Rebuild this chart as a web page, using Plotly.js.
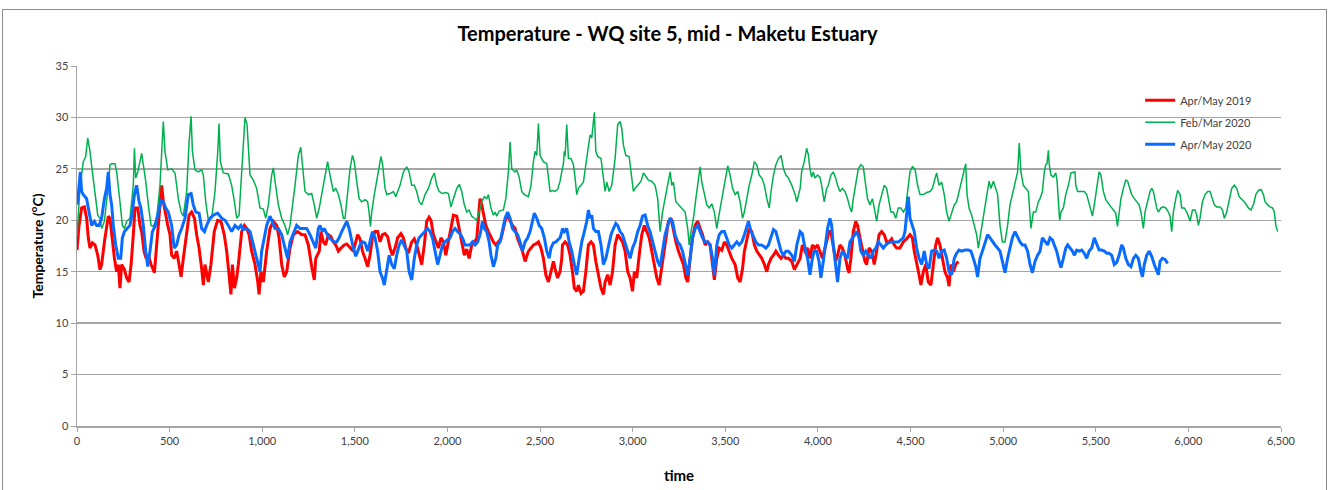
<!DOCTYPE html>
<html>
<head>
<meta charset="utf-8">
<script src="https://cdn.plot.ly/plotly-3.0.1.min.js"></script>
<style>
  html, body { margin: 0; padding: 0; background: #ffffff; }
  #wrap { position: relative; width: 1335px; height: 490px; overflow: hidden; }
  #frame { position: absolute; left: 2px; top: 9px; width: 1325px; height: 520px; border: 1.5px solid #8c8c8c; box-sizing: border-box; }
  #chart { position: absolute; left: 0; top: 0; width: 1335px; height: 490px; }
</style>
</head>
<body>
<div id="wrap"><div id="frame"></div><div id="chart"></div></div>
<script>
const chartTitle = 'Temperature - WQ site 5, mid - Maketu Estuary';
const seriesNames = ['Apr/May 2019', 'Feb/Mar 2020', 'Apr/May 2020'];
const xTickVals = [0,500,1000,1500,2000,2500,3000,3500,4000,4500,5000,5500,6000,6500];
const yTickVals = [0,5,10,15,20,25,30,35];

// Apr/May 2019 [time, temperature]
const aprMay2019 = [
[0,17.1],[11,19.5],[25,21.2],[40,21.3],[52,20.2],[61,18.3],[70,17.3],[83,17.8],[97,17.6],[112,16.6],[124,15.2],[133,15.7],[148,17.9],[160,19.5],[169,20.4],[178,20.2],[187,18.6],[202,16.3],[214,15.0],[223,15.7],[232,13.4],[241,15.7],[256,15.2],[268,14.4],[281,14.0],[292,15.7],[304,18.6],[313,21.2],[328,21.2],[340,19.5],[349,18.9],[362,17.0],[373,16.3],[385,16.6],[400,15.7],[418,14.9],[430,17.6],[443,20.2],[457,23.4],[466,21.8],[475,20.8],[490,19.5],[502,18.6],[511,16.6],[525,16.3],[538,17.0],[551,15.7],[562,14.5],[574,16.3],[592,18.9],[605,20.5],[619,20.8],[634,20.2],[646,18.6],[659,17.3],[673,15.3],[682,13.7],[691,15.7],[709,14.0],[723,15.7],[741,18.9],[759,20.0],[777,19.9],[795,18.6],[808,17.0],[821,14.7],[831,12.8],[839,15.7],[850,13.4],[862,14.4],[871,15.7],[889,18.9],[904,19.5],[916,19.2],[929,18.6],[943,17.0],[961,15.7],[976,14.0],[983,12.8],[993,15.0],[1006,14.0],[1024,17.0],[1042,19.2],[1060,19.9],[1078,19.5],[1091,18.3],[1105,15.7],[1119,14.5],[1132,15.0],[1150,17.3],[1168,18.6],[1191,18.9],[1213,18.6],[1231,18.6],[1249,17.6],[1267,15.5],[1281,14.2],[1289,16.3],[1308,17.0],
[1317,18.9],[1330,17.9],[1342,17.6],[1357,18.6],[1371,18.4],[1384,17.9],[1397,17.6],[1411,17.0],[1425,17.3],[1443,17.6],[1456,17.7],[1474,17.3],[1492,17.0],[1505,17.9],[1515,18.6],[1528,18.2],[1541,17.0],[1555,16.3],[1569,15.5],[1582,16.6],[1595,18.3],[1609,18.9],[1623,18.9],[1636,17.9],[1649,18.6],[1663,18.7],[1677,18.4],[1690,17.3],[1703,16.6],[1717,17.3],[1731,18.3],[1749,18.7],[1762,18.3],[1775,17.3],[1789,16.8],[1807,17.9],[1821,18.2],[1834,17.6],[1847,16.6],[1861,15.7],[1875,17.6],[1888,19.9],[1901,20.3],[1911,20.0],[1924,18.6],[1937,17.9],[1951,17.3],[1965,18.3],[1978,17.9],[1991,16.6],[2005,17.9],[2019,19.5],[2032,20.5],[2050,20.4],[2063,19.2],[2077,17.9],[2091,16.6],[2104,17.2],[2117,16.3],[2131,17.6],[2145,17.9],[2158,18.2],[2167,20.2],[2176,22.1],[2185,21.5],[2194,20.8],[2207,19.5],[2221,18.9],[2235,18.3],[2248,17.9],[2261,17.6],[2275,17.9],[2289,18.2],[2302,19.2],[2315,20.2],[2325,20.4],[2338,19.9],[2351,19.5],[2365,19.2],[2379,18.2],[2392,17.6],[2405,17.0],[2419,16.0],[2437,17.0],[2451,17.3],[2464,17.6],[2477,17.7],[2491,17.9],[2505,17.3],[2518,16.3],[2531,14.7],[2545,14.0],[2559,15.0],[2572,16.0],[2581,15.3],[2594,14.4],[2608,15.0],
[2617,16.3],[2621,17.6],[2635,17.9],[2649,17.6],[2662,16.6],[2675,15.0],[2685,13.4],[2698,13.1],[2707,13.7],[2721,12.9],[2734,13.1],[2747,15.0],[2761,17.6],[2775,17.9],[2788,17.6],[2801,16.0],[2815,14.7],[2829,13.4],[2842,12.8],[2851,14.0],[2865,14.7],[2878,13.7],[2891,15.0],[2905,17.6],[2919,18.6],[2932,18.3],[2945,17.9],[2959,17.0],[2973,15.0],[2986,14.4],[2999,13.1],[3009,15.0],[3022,14.4],[3035,16.6],[3049,18.6],[3063,19.5],[3076,18.9],[3089,18.3],[3103,17.0],[3117,15.7],[3130,14.4],[3143,13.7],[3153,15.0],[3166,16.3],[3179,17.9],[3193,19.9],[3207,20.2],[3220,18.9],[3233,17.9],[3247,17.0],[3261,16.3],[3274,15.7],[3287,14.4],[3297,14.0],[3310,16.3],[3323,18.3],[3337,19.5],[3351,19.9],[3364,19.2],[3377,18.6],[3391,17.6],[3405,17.9],[3418,17.6],[3431,15.7],[3441,14.2],[3454,16.3],[3467,17.3],[3481,17.1],[3495,17.9],[3508,17.6],[3521,17.0],[3535,16.3],[3553,15.7],[3567,14.4],[3580,14.0],[3593,15.3],[3603,17.0],[3616,18.3],[3629,19.2],[3643,18.9],[3657,17.6],[3670,17.0],[3683,16.6],[3697,16.3],[3711,15.7],[3724,15.0],[3733,15.7],[3747,16.3],[3760,16.6],[3773,17.0],[3787,16.6],[3801,16.3],[3814,16.6],[3827,16.3],[3841,16.3],[3859,16.0],[3873,15.2],[3886,15.7],[3904,16.3],
[3916,17.6],[3930,17.0],[3944,17.3],[3957,16.3],[3970,17.6],[3984,17.3],[3998,17.6],[4011,17.0],[4024,16.3],[4034,17.0],[4047,17.9],[4060,18.9],[4070,18.9],[4083,17.6],[4096,16.0],[4106,16.6],[4119,17.6],[4132,17.3],[4146,16.6],[4160,15.3],[4168,14.9],[4178,16.3],[4191,18.9],[4204,19.9],[4214,19.5],[4227,18.3],[4240,17.0],[4254,16.0],[4263,15.7],[4276,17.3],[4290,17.0],[4304,15.7],[4317,17.0],[4330,18.6],[4344,18.9],[4358,18.6],[4371,17.9],[4384,17.9],[4398,18.2],[4412,17.6],[4425,17.3],[4443,17.3],[4461,17.9],[4479,18.2],[4497,18.6],[4510,18.3],[4520,17.0],[4533,16.0],[4546,14.7],[4556,13.7],[4569,15.0],[4582,15.7],[4596,14.0],[4610,13.7],[4623,15.7],[4636,17.6],[4646,18.3],[4659,17.6],[4672,16.3],[4686,15.0],[4700,14.4],[4708,13.6],[4718,15.7],[4731,15.0],[4744,15.7],[4758,16.0]
];

// Feb/Mar 2020 [time, temperature]
const febMar2020 = [
[0,18.5],[17,23.4],[34,25.7],[47,26.2],[58,28.0],[70,26.7],[83,24.7],[94,23.4],[101,22.1],[112,20.5],[124,20.2],[133,19.2],[148,19.9],[169,23.4],[178,25.4],[187,25.5],[205,25.5],[214,24.7],[223,23.4],[232,21.8],[245,19.5],[256,19.2],[268,19.9],[286,20.2],[304,23.4],[310,27.0],[317,24.1],[328,24.7],[340,25.7],[349,26.5],[358,25.4],[371,23.8],[385,21.5],[400,19.5],[412,19.4],[430,20.2],[448,23.4],[457,26.3],[466,29.6],[475,26.7],[490,24.9],[511,25.0],[529,24.6],[538,23.4],[547,22.1],[562,20.8],[574,20.4],[592,22.8],[605,27.6],[616,30.1],[623,26.7],[637,24.9],[655,24.7],[673,24.9],[682,24.4],[695,21.8],[709,20.0],[727,20.2],[745,22.8],[760,26.7],[767,29.4],[774,25.7],[790,24.6],[817,24.5],[835,23.4],[850,21.8],[862,20.2],[875,20.5],[889,25.0],[898,28.0],[907,30.0],[918,29.3],[925,26.7],[934,24.4],[952,23.9],[970,23.1],[988,21.2],[1006,21.1],[1019,20.2],[1033,21.5],[1051,24.4],[1060,25.1],[1069,23.8],[1087,21.5],[1105,20.2],[1123,19.5],[1137,18.6],[1150,19.5],[1177,23.4],[1195,26.3],[1208,27.1],[1217,25.4],[1231,22.8],[1249,22.5],[1267,22.6],[1281,21.5],[1294,20.2],[1308,21.2],
[1330,23.4],[1353,25.7],[1366,24.4],[1384,22.8],[1397,23.1],[1411,22.5],[1425,21.5],[1438,20.2],[1447,20.2],[1461,22.5],[1474,25.0],[1487,26.3],[1497,25.7],[1510,23.8],[1523,22.1],[1537,21.8],[1555,22.0],[1569,21.8],[1577,20.8],[1584,19.4],[1591,20.8],[1605,22.5],[1618,23.8],[1631,25.4],[1641,26.2],[1650,25.4],[1663,23.1],[1672,22.5],[1690,22.6],[1708,22.8],[1721,22.3],[1731,22.8],[1744,23.4],[1762,24.7],[1780,25.2],[1793,24.7],[1807,23.4],[1821,23.4],[1834,22.8],[1847,21.8],[1861,21.5],[1879,22.5],[1897,23.1],[1915,24.1],[1929,24.6],[1942,23.4],[1955,22.8],[1973,22.6],[1991,22.7],[2005,22.6],[2019,21.3],[2032,22.1],[2050,23.1],[2064,23.5],[2077,22.8],[2091,21.5],[2104,20.8],[2117,21.0],[2131,20.4],[2145,20.2],[2158,20.0],[2171,20.8],[2185,21.8],[2199,22.3],[2212,22.1],[2221,22.5],[2235,21.2],[2248,20.5],[2257,20.8],[2266,20.4],[2279,20.9],[2302,21.0],[2315,22.1],[2329,24.7],[2338,27.6],[2347,25.0],[2365,24.7],[2374,24.9],[2387,24.2],[2401,22.8],[2415,22.5],[2437,22.3],[2451,23.4],[2464,25.7],[2473,26.7],[2482,26.3],[2491,29.4],[2500,26.3],[2518,25.7],[2536,25.5],[2545,24.4],[2554,22.8],[2567,22.9],[2581,22.8],[2595,23.0],[2608,23.8],
[2617,24.7],[2626,25.5],[2631,26.7],[2635,26.2],[2644,29.3],[2653,26.0],[2667,26.0],[2680,25.4],[2689,24.1],[2698,22.5],[2707,23.1],[2721,23.4],[2734,23.7],[2747,25.4],[2761,27.5],[2770,28.3],[2779,28.0],[2788,30.2],[2793,30.5],[2801,26.7],[2811,26.2],[2829,26.0],[2842,24.4],[2851,22.8],[2860,23.7],[2873,22.8],[2887,23.4],[2905,26.0],[2919,29.3],[2932,29.6],[2941,28.9],[2950,27.3],[2963,26.3],[2981,26.2],[2991,24.7],[3004,22.8],[3013,23.1],[3027,23.4],[3045,23.8],[3058,24.6],[3071,24.3],[3085,23.9],[3103,23.8],[3121,23.4],[3135,22.1],[3148,18.9],[3161,20.8],[3175,22.1],[3189,23.4],[3202,24.7],[3211,23.4],[3220,23.7],[3233,21.8],[3247,21.5],[3265,21.2],[3283,20.8],[3297,19.2],[3305,17.6],[3315,18.9],[3328,20.2],[3341,22.1],[3355,24.1],[3364,25.2],[3373,23.7],[3387,22.5],[3400,21.5],[3413,21.2],[3427,21.6],[3441,20.8],[3454,19.2],[3463,20.2],[3481,22.1],[3499,24.1],[3513,25.3],[3526,24.4],[3539,23.1],[3553,22.5],[3567,22.8],[3580,21.8],[3593,20.2],[3603,20.8],[3616,22.1],[3629,23.4],[3643,24.4],[3657,25.7],[3670,25.4],[3683,24.4],[3697,24.1],[3711,23.4],[3724,22.1],[3737,21.2],[3747,22.8],[3760,24.4],[3773,25.4],[3787,26.0],[3801,26.3],[3814,25.0],[3827,24.4],[3841,24.1],[3859,23.4],[3877,22.5],[3886,21.8],[3904,23.1],
[3912,24.7],[3926,25.7],[3939,27.0],[3948,26.4],[3957,25.0],[3966,24.2],[3975,24.7],[3984,24.1],[3998,24.4],[4011,24.2],[4020,23.4],[4034,21.8],[4047,23.1],[4056,23.4],[4070,24.4],[4083,24.7],[4096,24.1],[4106,23.4],[4119,22.8],[4132,23.1],[4146,22.8],[4160,22.1],[4173,21.2],[4182,20.8],[4191,22.1],[4204,23.7],[4218,25.0],[4232,25.4],[4245,25.2],[4258,23.4],[4268,22.1],[4281,21.5],[4294,22.1],[4304,21.2],[4317,19.9],[4330,21.5],[4344,22.5],[4358,23.4],[4371,23.1],[4380,22.1],[4394,20.8],[4407,20.8],[4420,20.2],[4434,21.2],[4448,21.2],[4461,20.8],[4474,21.2],[4484,22.8],[4497,24.7],[4510,25.2],[4524,25.0],[4538,23.4],[4551,22.5],[4569,22.5],[4587,22.7],[4605,22.8],[4618,23.1],[4628,23.8],[4641,24.6],[4654,23.4],[4668,23.7],[4682,22.5],[4695,20.8],[4708,19.9],[4722,20.8],[4736,21.5],[4749,21.8],[4762,22.8],[4776,23.7],[4785,24.6],[4798,25.5],[4805,22.5],[4816,21.2],[4830,20.5],[4844,19.5],[4857,18.6],[4866,17.3],[4880,18.9],[4893,20.2],[4906,21.5],[4916,22.8],[4924,23.8],[4934,23.1],[4947,23.8],[4960,23.1],[4970,22.5],[4983,19.5],[4996,17.9],[5010,17.9],[5024,19.5],[5037,21.5],[5050,22.5],[5064,23.4],[5078,24.7],[5087,27.5],[5096,24.7],[5109,23.4],[5122,23.1],[5136,22.8],[5150,19.2],[5163,20.8],[5176,20.8],[5190,21.8],[5199,22.1],
[5212,22.8],[5222,24.7],[5230,25.4],[5237,25.5],[5244,26.8],[5249,25.4],[5258,24.4],[5271,24.2],[5284,24.6],[5291,23.8],[5298,21.8],[5305,20.0],[5312,20.8],[5325,21.2],[5338,22.5],[5352,23.4],[5366,24.6],[5379,24.7],[5388,24.7],[5392,23.4],[5402,22.8],[5420,22.8],[5438,22.8],[5451,22.5],[5460,21.8],[5469,21.2],[5482,20.4],[5492,21.5],[5505,23.4],[5518,24.7],[5528,24.4],[5541,22.8],[5554,22.0],[5568,21.7],[5582,21.3],[5595,21.0],[5608,20.7],[5617,19.4],[5626,20.8],[5636,22.1],[5649,23.1],[5662,23.9],[5672,23.8],[5685,23.1],[5694,22.5],[5708,22.1],[5721,21.8],[5734,21.5],[5744,20.8],[5757,19.2],[5766,20.8],[5780,21.8],[5793,22.8],[5802,23.1],[5811,22.8],[5820,22.0],[5829,21.2],[5838,20.8],[5852,21.2],[5865,21.3],[5878,21.2],[5892,20.8],[5901,20.4],[5910,18.9],[5919,20.8],[5932,22.1],[5942,22.9],[5955,22.5],[5964,21.2],[5978,21.2],[5991,20.8],[6004,20.2],[6009,19.9],[6022,21.0],[6036,21.0],[6045,20.5],[6054,19.5],[6063,20.2],[6076,21.8],[6090,22.5],[6104,22.8],[6117,22.8],[6130,22.1],[6140,21.5],[6153,21.3],[6171,21.3],[6184,21.0],[6194,20.2],[6207,20.8],[6220,22.1],[6234,23.1],[6248,23.4],[6261,23.1],[6274,22.3],[6288,22.0],[6306,21.7],[6324,21.2],[6338,21.0],[6351,21.5],[6364,22.5],[6378,22.9],[6392,23.0],[6405,22.5],[6414,21.8],[6428,21.5],[6441,21.3],[6454,21.2],[6464,20.8],[6472,19.5],[6482,18.9]
];

// Apr/May 2020 [time, temperature]
const aprMay2020 = [
[0,21.5],[7,22.5],[18,24.7],[25,22.8],[34,22.5],[52,22.1],[65,20.8],[79,19.5],[94,19.9],[106,19.5],[119,19.5],[133,20.2],[148,22.1],[160,23.1],[169,24.7],[178,22.5],[187,21.5],[196,19.5],[209,17.6],[223,16.3],[236,16.3],[245,18.3],[256,18.9],[273,19.2],[286,19.5],[299,20.8],[310,22.5],[322,23.4],[335,21.8],[345,21.2],[358,19.5],[371,17.0],[382,15.5],[394,17.0],[407,18.9],[421,19.4],[439,20.8],[454,21.9],[466,21.8],[479,21.2],[493,20.8],[511,19.5],[525,17.3],[538,17.6],[551,18.6],[565,19.2],[583,20.2],[601,22.5],[616,22.6],[628,21.5],[641,20.8],[659,20.7],[673,19.2],[688,18.9],[700,19.5],[718,20.2],[736,20.5],[759,20.7],[781,20.2],[799,20.0],[817,19.5],[835,18.9],[853,19.5],[871,19.2],[885,19.5],[898,19.1],[916,19.2],[934,18.9],[952,17.6],[970,16.3],[988,15.0],[997,17.0],[1011,18.3],[1024,19.5],[1042,20.4],[1055,19.9],[1069,19.2],[1087,19.2],[1105,18.6],[1123,17.3],[1137,16.3],[1150,17.9],[1168,18.7],[1186,19.5],[1204,19.2],[1222,19.2],[1240,19.2],[1258,18.6],[1276,17.9],[1289,17.3],[1303,19.2],
[1312,19.5],[1325,18.9],[1335,19.2],[1348,18.7],[1361,18.3],[1375,18.1],[1389,17.9],[1402,17.9],[1415,18.3],[1429,18.9],[1443,19.5],[1456,19.9],[1469,19.2],[1479,18.3],[1492,17.3],[1505,16.5],[1515,17.0],[1528,17.6],[1541,17.9],[1555,17.8],[1569,17.0],[1582,17.9],[1595,18.9],[1609,18.3],[1623,17.0],[1636,15.0],[1649,14.4],[1659,13.7],[1672,15.0],[1685,16.6],[1699,15.7],[1713,15.3],[1726,16.6],[1739,17.6],[1753,18.1],[1767,17.6],[1780,17.0],[1793,15.0],[1807,14.2],[1821,16.3],[1834,17.6],[1847,18.3],[1861,18.6],[1879,18.9],[1893,19.2],[1906,18.9],[1919,18.3],[1933,17.0],[1947,15.7],[1960,16.6],[1973,17.6],[1987,17.9],[2001,18.1],[2014,18.3],[2027,18.9],[2041,19.2],[2055,18.9],[2068,18.7],[2081,18.3],[2095,17.6],[2109,17.6],[2122,17.6],[2135,17.9],[2149,17.6],[2163,17.9],[2176,18.6],[2189,19.9],[2199,19.2],[2212,18.9],[2225,17.9],[2235,16.6],[2248,15.5],[2261,16.3],[2271,17.6],[2284,17.9],[2297,18.9],[2311,20.2],[2325,20.8],[2338,20.2],[2351,19.2],[2365,18.9],[2379,18.6],[2392,17.9],[2405,17.0],[2419,17.9],[2433,18.3],[2446,18.9],[2459,19.9],[2469,20.7],[2482,20.2],[2495,19.5],[2509,19.2],[2523,18.3],[2536,17.0],[2549,16.3],[2559,17.3],[2572,17.8],[2585,17.9],[2608,18.3],
[2617,18.9],[2621,19.2],[2631,18.9],[2644,19.2],[2657,17.9],[2671,17.0],[2685,15.7],[2698,14.7],[2711,16.3],[2725,17.9],[2739,18.9],[2752,19.9],[2761,21.0],[2770,20.2],[2779,20.5],[2788,19.2],[2801,18.9],[2815,18.9],[2829,17.6],[2842,15.7],[2855,16.3],[2869,17.6],[2883,18.6],[2896,19.2],[2909,19.7],[2919,19.5],[2932,18.9],[2945,18.6],[2959,17.9],[2973,17.0],[2986,16.3],[2999,17.3],[3013,17.9],[3027,18.9],[3040,19.5],[3053,20.4],[3067,20.5],[3081,19.5],[3094,18.9],[3107,17.9],[3121,17.0],[3135,16.0],[3148,15.5],[3161,17.0],[3175,18.6],[3189,19.5],[3202,20.2],[3215,19.9],[3229,18.6],[3243,17.9],[3256,17.6],[3269,17.0],[3283,16.0],[3297,14.7],[3310,16.3],[3323,18.3],[3337,19.2],[3351,19.5],[3364,18.9],[3377,18.3],[3391,17.9],[3405,17.9],[3418,17.6],[3431,16.3],[3441,14.7],[3454,17.6],[3467,18.6],[3481,18.9],[3495,18.9],[3508,18.3],[3521,17.6],[3535,17.3],[3549,17.6],[3562,17.9],[3575,17.6],[3589,17.9],[3603,18.6],[3616,19.5],[3625,19.9],[3639,18.9],[3652,18.3],[3665,17.9],[3679,17.6],[3693,17.6],[3706,17.5],[3719,17.3],[3733,17.6],[3747,18.3],[3760,19.1],[3773,18.9],[3787,17.9],[3801,17.0],[3814,16.6],[3827,17.0],[3841,17.0],[3859,16.6],[3873,16.0],[3886,17.6],[3904,18.9],
[3916,18.7],[3930,17.3],[3944,16.3],[3957,14.7],[3970,16.3],[3980,17.0],[3993,17.0],[4006,16.0],[4016,14.4],[4029,16.0],[4042,17.9],[4052,19.2],[4065,20.2],[4074,19.5],[4083,17.6],[4096,15.7],[4106,14.0],[4119,16.3],[4132,17.0],[4146,16.6],[4160,16.3],[4173,17.9],[4186,18.3],[4200,18.6],[4209,18.9],[4222,18.3],[4232,17.0],[4245,16.6],[4258,17.0],[4272,16.6],[4286,16.3],[4299,17.0],[4312,17.3],[4326,17.9],[4340,17.6],[4353,17.3],[4366,17.6],[4380,17.8],[4398,17.9],[4416,17.9],[4434,17.9],[4448,18.1],[4461,18.3],[4470,18.9],[4479,20.8],[4488,22.3],[4497,20.2],[4510,19.5],[4520,18.9],[4533,17.3],[4546,16.3],[4560,15.7],[4574,17.0],[4587,15.7],[4600,15.3],[4614,17.0],[4628,17.1],[4641,17.0],[4654,16.3],[4668,17.0],[4682,17.1],[4695,16.3],[4708,15.0],[4722,14.7],[4736,16.3],[4749,16.8],[4762,17.1],[4776,17.0],[4794,17.1],[4812,17.1],[4826,17.0],[4839,16.3],[4852,15.5],[4862,14.5],[4875,16.3],[4888,17.0],[4902,17.9],[4916,18.6],[4929,18.3],[4942,17.9],[4956,17.6],[4970,17.3],[4983,17.0],[4996,16.0],[5010,14.9],[5024,16.3],[5037,17.3],[5050,18.3],[5064,18.9],[5078,18.3],[5091,17.9],[5104,17.6],[5118,17.6],[5132,17.0],[5145,15.7],[5158,14.9],[5172,16.0],[5186,16.6],[5199,17.0],
[5212,18.3],[5226,17.9],[5240,17.6],[5253,18.3],[5266,18.1],[5276,17.6],[5289,17.0],[5302,16.0],[5312,15.4],[5325,16.3],[5338,17.3],[5348,17.6],[5361,17.3],[5374,17.0],[5384,16.6],[5397,17.1],[5410,17.0],[5424,17.1],[5438,16.8],[5451,16.3],[5464,17.0],[5478,17.3],[5492,18.3],[5505,17.6],[5518,17.1],[5532,17.1],[5546,17.0],[5559,16.8],[5572,16.8],[5586,16.6],[5600,15.7],[5613,15.9],[5626,16.6],[5640,17.6],[5649,17.3],[5662,16.3],[5676,15.7],[5690,15.5],[5703,16.3],[5716,16.6],[5730,16.3],[5744,15.0],[5752,14.5],[5762,15.7],[5775,16.6],[5788,17.0],[5802,16.5],[5816,15.7],[5829,15.2],[5838,14.7],[5847,16.0],[5860,16.3],[5874,16.2],[5888,15.8]
];

const seriesData = [aprMay2019, febMar2020, aprMay2020];
const seriesColors = ['#ff0000', '#00b050', '#0a6cff'];
const seriesWidths = [3, 1.5, 3];

const traces = seriesData.map((pts, i) => ({
  type: 'scatter',
  mode: 'lines',
  name: seriesNames[i],
  legendgroup: 'g' + i,
  x: pts.map(p => p[0]),
  y: pts.map(p => p[1]),
  line: { color: seriesColors[i], width: seriesWidths[i] },
  hoverinfo: 'skip'
}));

const layout = {
  width: 1335,
  height: 490,
  paper_bgcolor: 'rgba(0,0,0,0)',
  plot_bgcolor: 'rgba(0,0,0,0)',
  margin: { l: 77, r: 54, t: 66, b: 64 },
  font: { family: 'Lato, "Open Sans", sans-serif', color: '#404040', size: 11 },
  title: {
    text: '<b>' + chartTitle + '</b>',
    x: 0.5, xanchor: 'center',
    y: 1 - 34 / 490, yanchor: 'middle', yref: 'container',
    font: { family: 'Lato, "Open Sans", sans-serif', size: 20, color: '#000000' }
  },
  showlegend: true,
  legend: {
    x: 0.883, xanchor: 'left',
    y: 0.945, yanchor: 'top',
    bgcolor: 'rgba(0,0,0,0)',
    font: { family: 'Lato, "Open Sans", sans-serif', size: 11, color: '#404040' },
    traceorder: 'grouped',
    tracegroupgap: 3,
    itemwidth: 30
  },
  xaxis: {
    range: [0, 6500],
    tickvals: xTickVals,
    ticktext: xTickVals.map(v => v.toLocaleString('en-US')),
    showgrid: false,
    zeroline: false,
    showline: true,
    linecolor: '#a6a6a6',
    linewidth: 1.5,
    ticks: 'outside',
    ticklen: 4,
    tickcolor: '#a6a6a6',
    tickfont: { size: 11, color: '#404040' },
    title: { text: '<b>time</b>', font: { size: 15, color: '#000000' }, standoff: 25 },
    fixedrange: true
  },
  yaxis: {
    range: [0, 35],
    tickvals: yTickVals,
    showgrid: true,
    gridcolor: '#a6a6a6',
    gridwidth: 1.3,
    zeroline: false,
    showline: true,
    linecolor: '#a6a6a6',
    linewidth: 1.5,
    ticks: 'outside',
    ticklen: 5,
    tickcolor: '#a6a6a6',
    tickfont: { size: 11, color: '#404040' },
    title: { text: '<b>Temperature (<sup>o</sup>C)</b>', font: { size: 14, color: '#000000' }, standoff: 8 },
    fixedrange: true
  }
};

Plotly.newPlot('chart', traces, layout, { displayModeBar: false, staticPlot: true });
</script>
</body>
</html>
